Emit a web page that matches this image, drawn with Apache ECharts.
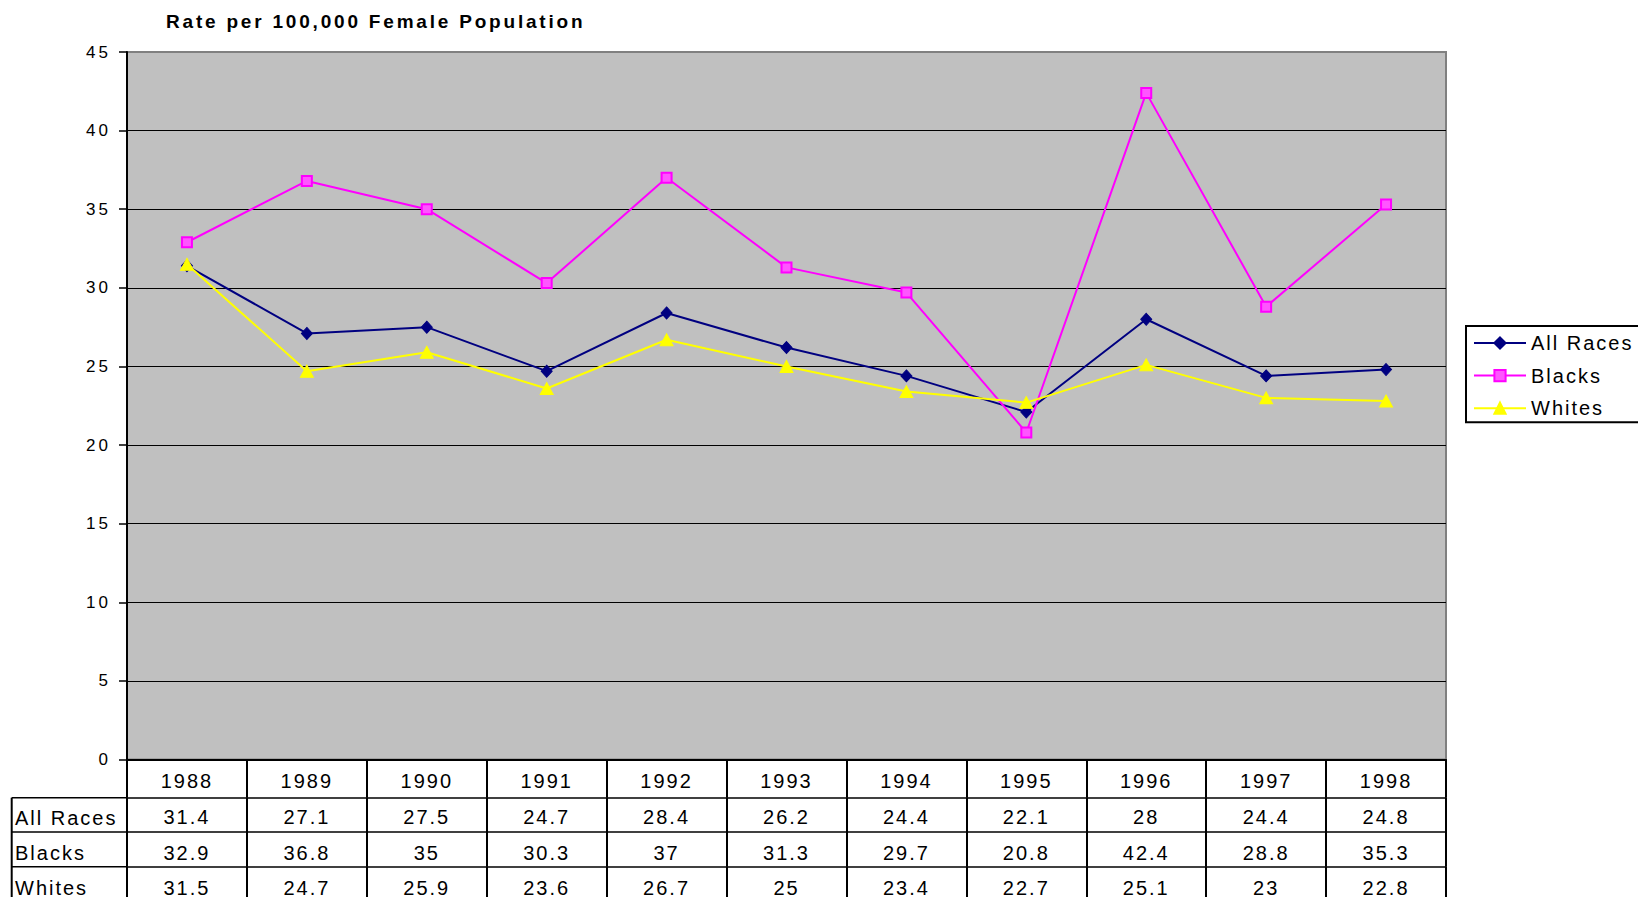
<!DOCTYPE html>
<html>
<head>
<meta charset="utf-8">
<script src="https://cdn.jsdelivr.net/npm/echarts@6/dist/echarts.min.js"></script>
<style>
  html, body { margin: 0; padding: 0; background: #fff; }
  #chart { width: 1638px; height: 897px; }
  #chart text { letter-spacing: 2px; }
  #chart text[style*="17px"] { letter-spacing: 3px; }
  #chart text[style*="bold"] { letter-spacing: 2.8px; }
</style>
</head>
<body>
<div id="chart"></div>
<script>
// ---- data ----
var years = ['1988', '1989', '1990', '1991', '1992', '1993', '1994', '1995', '1996', '1997', '1998'];
var allRaces = [31.4, 27.1, 27.5, 24.7, 28.4, 26.2, 24.4, 22.1, 28, 24.4, 24.8];
var blacks = [32.9, 36.8, 35, 30.3, 37, 31.3, 29.7, 20.8, 42.4, 28.8, 35.3];
var whites = [31.5, 24.7, 25.9, 23.6, 26.7, 25, 23.4, 22.7, 25.1, 23, 22.8];
var seriesNames = ['All Races', 'Blacks', 'Whites'];
var yMin = 0, yMax = 45, yInterval = 5;

// ---- layout ----
var W = 1638, H = 897;
var gridLeft = 127, gridTop = 52, gridRightX = 1446, gridBottomY = 759.5;
var rowLines = [759.5, 797.7, 832, 866.7, 905];
var labelColLeft = 11.7;
var FONT = '"Liberation Sans", Arial, Helvetica, sans-serif';

var chart = echarts.init(document.getElementById('chart'), null, { renderer: 'svg', width: W, height: H });

var rowData = [null, allRaces, blacks, whites];
var labelMargins = [11, 9, 10.5, 11];
var nameCenters = [0, 817.5, 852.5, 888];

var xAxes = [];
for (var r = 0; r < 4; r++) {
  (function (r) {
    var arr = rowData[r];
    xAxes.push({
      type: 'category',
      gridIndex: 0,
      position: 'bottom',
      offset: rowLines[r] - gridBottomY,
      data: years,
      boundaryGap: true,
      axisLine: { show: true, lineStyle: { color: '#000', width: r === 0 ? 2 : 1.5 } },
      axisTick: { show: true, alignWithLabel: false, interval: 0, length: rowLines[r + 1] - rowLines[r], lineStyle: { color: '#000', width: 2 } },
      axisLabel: {
        show: true,
        interval: 0,
        margin: labelMargins[r],
        fontFamily: FONT,
        fontSize: 20,
        color: '#000',
        formatter: function (val, idx) { return arr ? String(arr[idx]) : val; }
      },
      splitLine: { show: false }
    });
  })(r);
}

// table border lines and row labels for the row-label column
var graphics = [];
graphics.push({
  type: 'line', silent: true,
  shape: { x1: labelColLeft, y1: rowLines[1], x2: labelColLeft, y2: H + 5 },
  style: { stroke: '#000', lineWidth: 2 }
});
for (var k = 1; k < 4; k++) {
  graphics.push({
    type: 'line', silent: true,
    shape: { x1: labelColLeft, y1: rowLines[k], x2: gridLeft, y2: rowLines[k] },
    style: { stroke: '#000', lineWidth: 1.5 }
  });
  graphics.push({
    type: 'text', silent: true,
    x: 15, y: nameCenters[k],
    style: {
      text: seriesNames[k - 1], fill: '#000',
      font: '20px ' + FONT,
      textAlign: 'left', textVerticalAlign: 'middle'
    }
  });
}

var option = {
  animation: false,
  backgroundColor: '#fff',
  title: {
    text: 'Rate per 100,000 Female Population',
    left: 166, top: 12, padding: 0,
    textStyle: { fontFamily: FONT, fontSize: 19, fontWeight: 'bold', color: '#000' }
  },
  legend: {
    orient: 'vertical',
    left: 1466, top: 326,
    padding: [7, 60, 4, 7],
    backgroundColor: '#fff',
    borderColor: '#000', borderWidth: 2,
    itemWidth: 52, itemHeight: 14, itemGap: 12.6,
    textStyle: { fontFamily: FONT, fontSize: 20, color: '#000' },
    data: seriesNames
  },
  grid: {
    left: gridLeft, top: gridTop,
    width: gridRightX - gridLeft, height: gridBottomY - gridTop,
    show: true, backgroundColor: '#c0c0c0', borderColor: '#808080', borderWidth: 2,
    containLabel: false, outerBoundsMode: 'none'
  },
  xAxis: xAxes,
  yAxis: {
    type: 'value', min: yMin, max: yMax, interval: yInterval,
    axisLine: { show: true, lineStyle: { color: '#000', width: 2 } },
    axisTick: { show: true, inside: false, length: 8, lineStyle: { color: '#000', width: 1.5 } },
    axisLabel: { margin: 16, fontFamily: FONT, fontSize: 17, color: '#000' },
    splitLine: { show: true, showMaxLine: false, showMinLine: false, lineStyle: { color: '#000', width: 1 } }
  },
  graphic: graphics,
  series: [
    {
      name: seriesNames[0], type: 'line', data: allRaces, xAxisIndex: 0,
      symbol: 'diamond', symbolSize: [11, 12],
      lineStyle: { color: '#000080', width: 2 },
      itemStyle: { color: '#000080', borderColor: '#000080', borderWidth: 1 }
    },
    {
      name: seriesNames[1], type: 'line', data: blacks, xAxisIndex: 0,
      symbol: 'rect', symbolSize: 10,
      lineStyle: { color: '#ff00ff', width: 2 },
      itemStyle: { color: '#ff55ff', borderColor: '#ff00ff', borderWidth: 2 }
    },
    {
      name: seriesNames[2], type: 'line', data: whites, xAxisIndex: 0,
      symbol: 'triangle', symbolSize: [13, 12],
      lineStyle: { color: '#ffff00', width: 2 },
      itemStyle: { color: '#ffff00', borderColor: '#ffff00', borderWidth: 1 }
    }
  ]
};
chart.setOption(option);
</script>
</body>
</html>
